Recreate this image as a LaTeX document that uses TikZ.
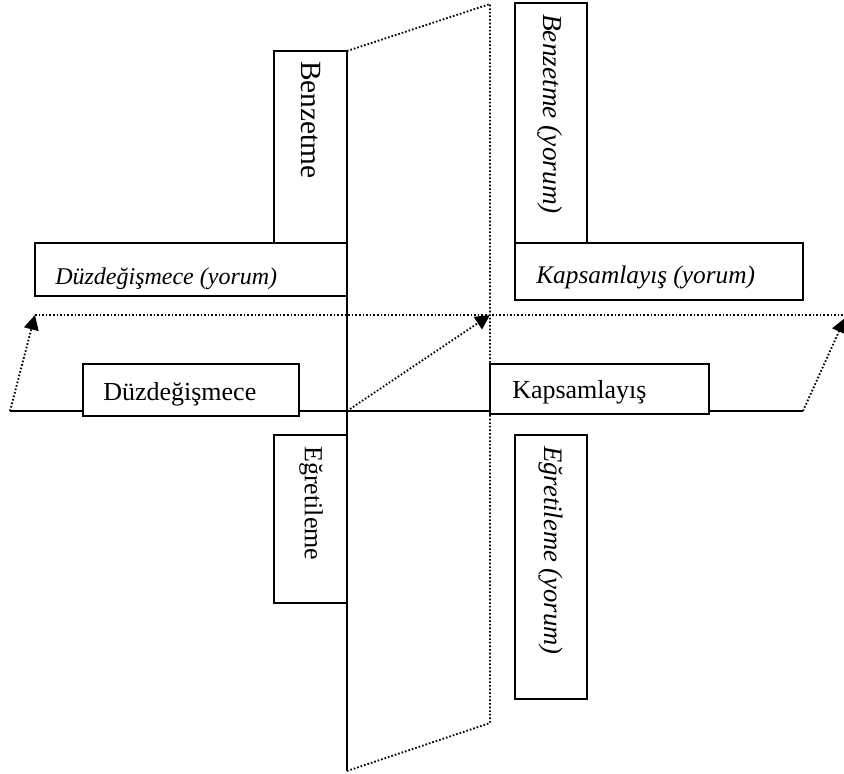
\documentclass[tikz,border=0pt]{standalone}
\usepackage{fontspec}
\setmainfont{Liberation Serif}
\usetikzlibrary{arrows.meta,fit}
\begin{document}
\begin{tikzpicture}[x=0.75pt,y=-0.75pt,
  box/.style={draw,fill=white,line width=1.1pt,inner sep=0pt},
  lbl/.style={font=\fontsize{19.5}{23}\selectfont,inner sep=0pt},
  ilbl/.style={font=\fontsize{19}{23}\selectfont\itshape,inner sep=0pt},
  solidline/.style={line width=1.1pt},
  dotline/.style={line width=1.4pt,dash pattern=on 1.2pt off 1.5pt},
  arr/.style={dotline,-{Triangle[length=11pt,width=11pt]}}]
\useasboundingbox (0,0) rectangle (844,774);
% coordinates
\coordinate (L) at (10,411);
\coordinate (R) at (803,411);
\coordinate (O) at (347,411);
\coordinate (T) at (347,51);
\coordinate (B) at (347,771);
\coordinate (TR) at (490,4);
\coordinate (BR) at (490,723);
\coordinate (AL) at (35,315);
\coordinate (AM) at (490,315);
\coordinate (AR) at (845,318);
\coordinate (HE) at (844,315);
% lines
\draw[solidline] (L) -- (R);
\draw[solidline] (T) -- (B);
\draw[dotline] (T) -- (TR) -- (BR) -- (B);
\draw[dotline] (AL) -- (HE);
\draw[arr] (L) -- (AL);
\draw[arr] (O) -- (AM);
\draw[arr] (R) -- (AR);
% boxes
\node[box,fit={(274,51)(347,243)}] (benz) {};
\node[box,fit={(35,243)(347,296)}] (duzy) {};
\node[box,fit={(274,435)(347,603)}] (egr) {};
\node[box,fit={(83,364)(299,416)}] (duz) {};
\node[box,fit={(515,3)(587,243)}] (benzy) {};
\node[box,fit={(515,243)(803,300)}] (kapy) {};
\node[box,fit={(490,364)(709,414)}] (kap) {};
\node[box,fit={(515,435)(587,699)}] (egry) {};
% texts
\node[lbl,font=\fontsize{22}{26}\selectfont,rotate=-90,anchor=west] (benzT) at (311,61) {Benzetme};
\node[ilbl,font=\fontsize{20.5}{24}\selectfont\itshape,rotate=-90,anchor=west] (benzyT) at (550,14) {Benzetme (yorum)};
\node[lbl,rotate=-90,anchor=west] (egrT) at (311,446) {Eğretileme};
\node[ilbl,font=\fontsize{20}{24}\selectfont\itshape,rotate=-90,anchor=west] (egryT) at (551,446) {Eğretileme (yorum)};
\node[ilbl,font=\fontsize{18}{22}\selectfont\itshape,anchor=base west] (duzyT) at (55,284) {Düzdeğişmece (yorum)};
\node[ilbl,anchor=base west] (kapyT) at (536,283) {Kapsamlayış (yorum)};
\node[lbl,anchor=base west] (duzT) at (103,400) {Düzdeğişmece};
\node[lbl,anchor=base west] (kapT) at (512,398) {Kapsamlayış};
\end{tikzpicture}
\end{document}
